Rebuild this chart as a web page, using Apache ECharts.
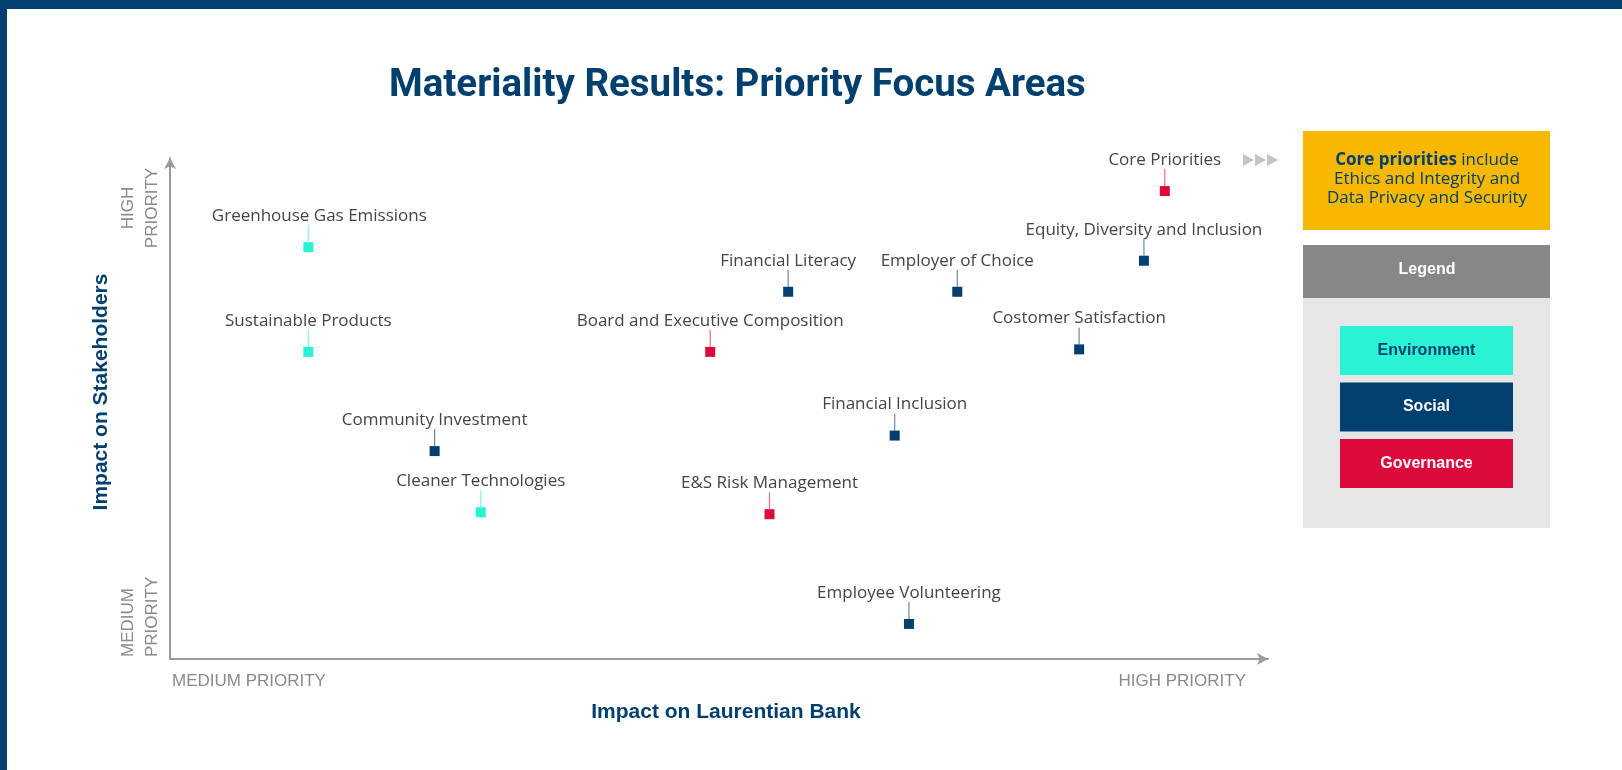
<!DOCTYPE html>
<html>
<head>
<meta charset="utf-8">
<script src="https://cdn.jsdelivr.net/npm/echarts@6/dist/echarts.min.js"></script>
<style>
html,body{margin:0;padding:0;background:#fff;}
#chart{width:1622px;height:770px;}
</style>
</head>
<body>
<div id="chart"></div>
<script>
// ---- data ----
const groups = ['Environment', 'Social', 'Governance'];
const topics = [
  'Greenhouse Gas Emissions', 'Sustainable Products', 'Community Investment',
  'Cleaner Technologies', 'E&S Risk Management', 'Board and Executive Composition',
  'Financial Literacy', 'Employer of Choice', 'Financial Inclusion',
  'Costomer Satisfaction', 'Equity, Diversity and Inclusion', 'Core Priorities',
  'Employee Volunteering'
];
const topicGroup = [
  'Environment', 'Environment', 'Social',
  'Environment', 'Governance', 'Governance',
  'Social', 'Social', 'Social',
  'Social', 'Social', 'Governance',
  'Social'
];
const impactOnBank = [12.6, 12.6, 24.1, 28.3, 54.6, 49.2, 56.3, 71.7, 66.0, 82.8, 88.7, 90.6, 67.3];
const impactOnStakeholders = [82.2, 61.3, 41.5, 29.3, 28.9, 61.3, 73.3, 73.3, 44.6, 61.8, 79.5, 93.4, 7.0];
const xEndLabels = ['MEDIUM PRIORITY', 'HIGH PRIORITY'];
const yEndLabels = ['MEDIUM\nPRIORITY', 'HIGH\nPRIORITY'];
const chartTitle = 'Materiality Results: Priority Focus Areas';
const xTitle = 'Impact on Laurentian Bank';
const yTitle = 'Impact on Stakeholders';
const coreNote = ['Core priorities', ' include', 'Ethics and Integrity and', 'Data Privacy and Security'];
const legendTitle = 'Legend';

// ---- styles ----
const NAVY = '#003f6e';
const groupColors = { Environment: '#2af2d5', Social: '#003f6e', Governance: '#dc0a3a' };
const legendText = { Environment: '#003f6e', Social: '#ffffff', Governance: '#ffffff' };
const labelNudge = { 'Greenhouse Gas Emissions': 11 };
const LABEL_FONT = '"Open Sans", "Liberation Sans", sans-serif';
const PLAIN_FONT = '"Liberation Sans", sans-serif';

const chart = echarts.init(document.getElementById('chart'), null, { renderer: 'canvas' });

const series = groups.map(function (g) {
  const idx = [];
  topics.forEach(function (t, i) { if (topicGroup[i] === g) idx.push(i); });
  const color = groupColors[g];
  return {
    type: 'custom',
    name: g,
    coordinateSystem: 'cartesian2d',
    data: idx.map(function (i) { return { name: topics[i], value: [impactOnBank[i], impactOnStakeholders[i]] }; }),
    renderItem: function (params, api) {
      const p = api.coord([api.value(0), api.value(1)]);
      const name = topics[idx[params.dataIndex]];
      const nudge = labelNudge[name] || 0;
      return {
        type: 'group',
        children: [
          { type: 'line', shape: { x1: p[0], y1: p[1] - 5, x2: p[0], y2: p[1] - 22 },
            style: { stroke: color, lineWidth: 1.2, opacity: 0.6 } },
          { type: 'rect', shape: { x: p[0] - 5, y: p[1] - 5, width: 10, height: 10 },
            style: { fill: color } },
          { type: 'text', x: p[0] + nudge, y: p[1] - 31,
            style: { text: name, align: 'center', verticalAlign: 'middle',
              fontSize: 17, fontFamily: LABEL_FONT, fill: '#444444' } }
        ]
      };
    },
    z: 5
  };
});

const axisLineStyle = { color: '#9a9a9a', width: 2 };

const graphics = [
  // frame bars
  { type: 'rect', left: 0, top: 0, shape: { width: 1622, height: 9 }, style: { fill: NAVY } },
  { type: 'rect', left: 0, top: 0, shape: { width: 7, height: 770 }, style: { fill: NAVY } },
  // x end labels
  { type: 'text', x: 172, y: 681, style: { text: xEndLabels[0], align: 'left', verticalAlign: 'middle',
      fontSize: 17, fontFamily: PLAIN_FONT, fill: '#8a8a8a' } },
  { type: 'text', x: 1246, y: 681, style: { text: xEndLabels[1], align: 'right', verticalAlign: 'middle',
      fontSize: 17, fontFamily: PLAIN_FONT, fill: '#8a8a8a' } },
  // y end labels (rotated)
  { type: 'text', x: 140, y: 657, rotation: Math.PI / 2,
    style: { text: yEndLabels[0], align: 'left', verticalAlign: 'middle', lineHeight: 24,
      fontSize: 17, fontFamily: PLAIN_FONT, fill: '#8a8a8a' } },
  { type: 'text', x: 140, y: 208, rotation: Math.PI / 2,
    style: { text: yEndLabels[1], align: 'center', verticalAlign: 'middle', lineHeight: 24,
      fontSize: 17, fontFamily: PLAIN_FONT, fill: '#8a8a8a' } },
  // y title
  { type: 'text', x: 101, y: 392, rotation: Math.PI / 2,
    style: { text: yTitle, align: 'center', verticalAlign: 'middle',
      fontSize: 21, fontWeight: 'bold', fontFamily: PLAIN_FONT, fill: NAVY } },
  // core priority arrows
  { type: 'polygon', shape: { points: [[1243, 154], [1254, 160], [1243, 166]] }, style: { fill: '#c4c4c4' } },
  { type: 'polygon', shape: { points: [[1255, 154], [1266, 160], [1255, 166]] }, style: { fill: '#c4c4c4' } },
  { type: 'polygon', shape: { points: [[1267, 154], [1278, 160], [1267, 166]] }, style: { fill: '#c4c4c4' } },
  // core note box
  { type: 'rect', left: 1303, top: 131, shape: { width: 247, height: 99 }, style: { fill: '#f8b800' } },
  { type: 'text', x: 1427, y: 179,
    style: { text: '{b|' + coreNote[0] + '}{n|' + coreNote[1] + '}\n{n|' + coreNote[2] + '}\n{n|' + coreNote[3] + '}',
      align: 'center', verticalAlign: 'middle',
      rich: {
        b: { fontSize: 17, fontWeight: 'bold', fontFamily: LABEL_FONT, fill: NAVY, lineHeight: 19 },
        n: { fontSize: 17, fontFamily: LABEL_FONT, fill: NAVY, lineHeight: 19 }
      } } },
  // legend
  { type: 'rect', left: 1303, top: 245, shape: { width: 247, height: 53 }, style: { fill: '#878787' } },
  { type: 'text', x: 1427, y: 270, style: { text: legendTitle, align: 'center', verticalAlign: 'middle',
      fontSize: 16, fontWeight: 'bold', fontFamily: PLAIN_FONT, fill: '#ffffff' } },
  { type: 'rect', left: 1303, top: 298, shape: { width: 247, height: 230 }, style: { fill: '#e6e6e6' } }
];
groups.forEach(function (g, i) {
  const top = 326 + i * 56.5;
  graphics.push({ type: 'rect', left: 1340, top: top, shape: { width: 173, height: 49 }, style: { fill: groupColors[g] } });
  graphics.push({ type: 'text', x: 1426.5, y: top + 24.5, style: { text: g, align: 'center', verticalAlign: 'middle',
      fontSize: 16, fontWeight: 'bold', fontFamily: PLAIN_FONT, fill: legendText[g] } });
});

chart.setOption({
  backgroundColor: '#ffffff',
  animation: false,
  title: {
    text: chartTitle, left: 384, top: 62,
    textStyle: { fontSize: 38.5, fontWeight: 'bold', fontFamily: 'Roboto, sans-serif', color: NAVY }
  },
  grid: { left: 170, right: 354, top: 158, bottom: 111, containLabel: false },
  xAxis: {
    type: 'value', min: 0, max: 100,
    name: xTitle, nameLocation: 'middle', nameGap: 43,
    nameTextStyle: { fontSize: 21, fontWeight: 'bold', fontFamily: PLAIN_FONT, color: NAVY, padding: [0, 0, 0, 14] },
    axisLine: { show: true, lineStyle: axisLineStyle, symbol: ['none', 'arrow'], symbolSize: [9, 11] },
    axisTick: { show: false }, axisLabel: { show: false }, splitLine: { show: false }
  },
  yAxis: {
    type: 'value', min: 0, max: 100,
    axisLine: { show: true, lineStyle: axisLineStyle, symbol: ['none', 'arrow'], symbolSize: [9, 11] },
    axisTick: { show: false }, axisLabel: { show: false }, splitLine: { show: false }
  },
  graphic: { elements: graphics },
  series: series
});
</script>
</body>
</html>
